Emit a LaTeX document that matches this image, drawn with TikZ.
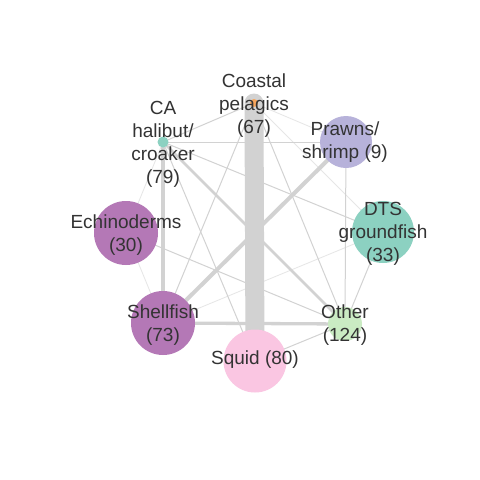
\documentclass[tikz,border=0pt]{standalone}
\usepackage{fontspec}
\setmainfont{Liberation Sans}
\pgfdeclarelayer{bg}
\pgfdeclarelayer{edges}
\pgfsetlayers{bg,edges,main}
\definecolor{edgegray}{HTML}{D2D2D2}
\definecolor{edgefaint}{HTML}{E6E6E6}
\definecolor{txt}{HTML}{333333}
\definecolor{corange}{HTML}{F6A55C}
\definecolor{cteal}{HTML}{8CD1C1}
\definecolor{clav}{HTML}{B7B2DA}
\definecolor{cpurple}{HTML}{B478B6}
\definecolor{clgreen}{HTML}{CAEBC3}
\definecolor{cpink}{HTML}{FAC6E2}
\tikzset{
  vert/.style={circle, inner sep=0pt, draw=none},
  lab/.style={align=center, text=txt, inner sep=0pt, font=\fontsize{19}{23}\selectfont},
  thinedge/.style={draw=edgegray, line width=1pt},
  faintedge/.style={draw=edgefaint, line width=0.8pt},
  midedge/.style={draw=edgegray, line width=3.3pt},
  bigedge/.style={draw=edgegray, line width=19pt, line cap=round},
}
\begin{document}
\begin{tikzpicture}[x=1pt,y=1pt]
\begin{pgfonlayer}{bg}
\fill[white] (0,0) rectangle (480,-480);
\end{pgfonlayer}
\useasboundingbox (0,0) rectangle (480,-480);
% vertices
\node[vert, fill=corange, minimum size=8pt] (C) at (254,-103) {};
\node[vert, fill=cteal, minimum size=11pt] (H) at (163,-142) {};
\node[vert, fill=clav, minimum size=52pt] (P) at (346,-142) {};
\node[vert, fill=cteal, minimum size=62pt] (D) at (383,-232) {};
\node[vert, fill=clgreen, minimum size=34pt] (O) at (345,-324) {};
\node[vert, fill=cpink, minimum size=63pt] (S) at (255,-361) {};
\node[vert, fill=cpurple, minimum size=64pt] (F) at (163,-323) {};
\node[vert, fill=cpurple, minimum size=64pt] (E) at (126,-233) {};
% edges
\begin{pgfonlayer}{edges}
\draw[faintedge] (C.center) -- (P.center);
\draw[faintedge] (C.center) -- (D.center);
\draw[faintedge] (H.center) -- (E.center);
\draw[faintedge] (E.center) -- (F.center);
\draw[faintedge] (F.center) -- (D.center);
\draw[thinedge] (C.center) -- (H.center);
\draw[thinedge] (C.center) -- (F.center);
\draw[thinedge] (C.center) -- (O.center);
\draw[thinedge] (H.center) -- (P.center);
\draw[thinedge] (H.center) -- (D.center);
\draw[thinedge] (H.center) -- (S.center);
\draw[thinedge] (P.center) -- (O.center);
\draw[thinedge] (E.center) -- (O.center);
\draw[thinedge] (D.center) -- (O.center);
\draw[thinedge] (S.center) -- (O.center);
\draw[midedge, line width=2.8pt] (H.center) -- (O.center);
\draw[midedge] (F.center) -- (O.center);
\draw[midedge, line width=3.6pt] (H.center) -- (F.center);
\draw[midedge, line width=4pt] (P.center) -- (F.center);
\draw[bigedge] (C.center) -- (S.center);
\end{pgfonlayer}
% labels
\node[lab] (Clab) at (254,-106) {Coastal\\pelagics\\(67)};
\node[lab] (Hlab) at (163,-144) {CA\\halibut/\\croaker\\(79)};
\node[lab] (Plab) at (345,-142) {Prawns/\\shrimp (9)};
\node[lab] (Dlab) at (383,-234) {DTS\\groundfish\\(33)};
\node[lab] (Olab) at (345,-325) {Other\\(124)};
\node[lab] (Slab) at (255,-360) {Squid (80)};
\node[lab] (Flab) at (163,-325) {Shellfish\\(73)};
\node[lab] (Elab) at (126,-235) {Echinoderms\\(30)};
\end{tikzpicture}
\end{document}
